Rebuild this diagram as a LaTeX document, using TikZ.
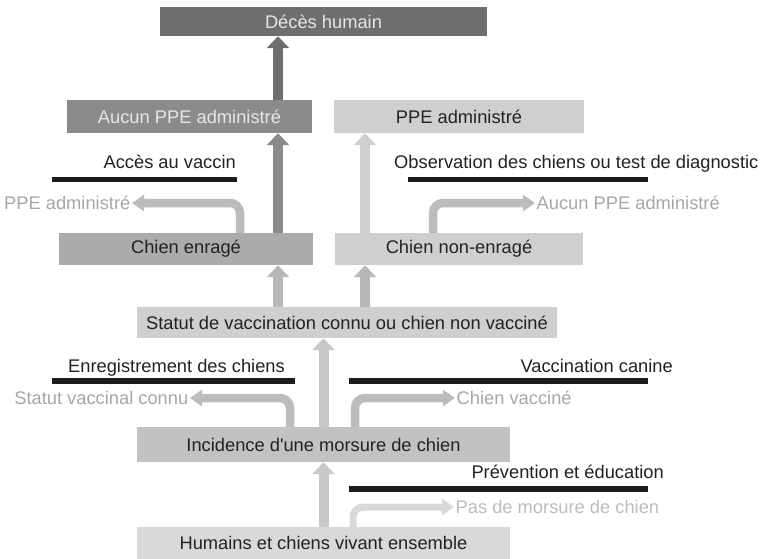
\documentclass[tikz,border=0pt]{standalone}
\usepackage{fontspec}
\setmainfont{Liberation Sans}[Ligatures=TeXOff]
\usepackage{xcolor}
\usepackage{tikz}
\usetikzlibrary{arrows.meta}
\definecolor{txtdark}{HTML}{222222}
\definecolor{txtlight}{HTML}{E6E6E6}
\definecolor{lbl}{HTML}{A6A6A6}
\definecolor{barblack}{HTML}{1C1C1C}
\definecolor{grayA}{HTML}{6D6E70}
\definecolor{grayB}{HTML}{8B8B8D}
\definecolor{grayC}{HTML}{ABABAB}
\definecolor{grayD}{HTML}{C2C2C2}
\definecolor{grayE}{HTML}{CFCFCF}
\definecolor{grayF}{HTML}{D9D9D9}
\tikzset{>={Triangle[width=22pt,length=12pt]},
  box/.style={rectangle,inner sep=0pt,text=txtdark,font=\fontsize{18.3}{21}\selectfont},
  bar/.style={rectangle,fill=barblack,inner sep=0pt,minimum height=5.5pt},
  bartext/.style={inner sep=0pt,text=txtdark,font=\fontsize{18.3}{21}\selectfont},
  sidetext/.style={inner sep=1.5pt,text=lbl,font=\fontsize{18.3}{21}\selectfont},
  main/.style={line width=10pt,->},
  side/.style={line width=8.5pt,rounded corners=10pt,-{Triangle[width=16pt,length=12pt]}}}
\begin{document}
\begin{tikzpicture}[x=1pt,y=-1pt]
    \useasboundingbox (0,0) rectangle (760,558);
    \node[box,fill=grayA,text=txtlight,minimum width=327pt,minimum height=29pt] (dec) at (323.5,21.5) {Décès humain};
    \node[box,fill=grayB,text=txtlight,minimum width=245pt,minimum height=33pt] (noppe) at (189.5,116.5) {Aucun PPE administré};
    \node[box,fill=grayE,minimum width=250pt,minimum height=33pt] (ppe) at (459,116.5) {PPE administré};
    \node[box,fill=grayC,minimum width=254pt,minimum height=32pt] (enr) at (186,249) {Chien enragé};
    \node[box,fill=grayE,minimum width=248pt,minimum height=32pt] (nonenr) at (459,249) {Chien non-enragé};
    \node[box,fill=grayE,minimum width=420pt,minimum height=31pt] (statut) at (347,322.5) {Statut de vaccination connu ou chien non vacciné};
    \node[box,fill=grayD,minimum width=373pt,minimum height=35pt] (inc) at (323.5,444.5) {Incidence d'une morsure de chien};
    \node[box,fill=grayF,minimum width=373pt,minimum height=32pt] (hum) at (323.5,543) {Humains et chiens vivant ensemble};

    \node[bar,minimum width=185pt] (accbar) at (144.5,179.5) {};
    \node[bar,minimum width=240pt] (obsbar) at (528,179.5) {};
    \node[bar,minimum width=243pt] (regbar) at (173.5,381) {};
    \node[bar,minimum width=299pt] (vacbar) at (498.5,381) {};
    \node[bar,minimum width=299pt] (prevbar) at (498.5,489) {};
    \node[bartext,anchor=base east] (acc) at (236,168) {Accès au vaccin};
    \node[bartext,anchor=base west] (obs) at (394,168) {Observation des chiens ou test de diagnostic};
    \node[bartext,anchor=base east] (reg) at (285,372) {Enregistrement des chiens};
    \node[bartext,anchor=base east] (vac) at (673,372) {Vaccination canine};
    \node[bartext,anchor=base east] (prev) at (664,478) {Prévention et éducation};

    \node[sidetext,anchor=east] (ppeL) at (132,203) {PPE administré};
    \node[sidetext,anchor=west] (noppeR) at (535,203) {Aucun PPE administré};
    \node[sidetext,anchor=east] (statL) at (190,398) {Statut vaccinal connu};
    \node[sidetext,anchor=west] (vacR) at (455,398) {Chien vacciné};
    \node[sidetext,text=lbl!75,anchor=west] (pasR) at (454,507) {Pas de morsure de chien};

    \draw[main,grayA] ([xshift=88.5pt]noppe.north) -- ([xshift=88.5pt]noppe.north |- dec.south);
    \draw[main,grayB] ([xshift=92pt]enr.north) -- ([xshift=92pt]enr.north |- noppe.south);
    \draw[main,grayE] ([xshift=-94pt]nonenr.north) -- ([xshift=-94pt]nonenr.north |- ppe.south);
    \draw[main,grayC!85] ([xshift=-69pt]statut.north) -- ([xshift=-69pt]statut.north |- enr.south);
    \draw[main,grayC!85] ([xshift=18pt]statut.north) -- ([xshift=18pt]statut.north |- nonenr.south);
    \draw[main,grayD!90] (inc.north) -- (inc.north |- statut.south);
    \draw[main,grayD!90] (hum.north) -- (inc.south);

    \draw[side,grayC!80] ([xshift=54pt]enr.north) |- (ppeL.east);
    \draw[side,grayC!80] ([xshift=-26pt]nonenr.north) |- (noppeR.west);
    \draw[side,grayC!80] ([xshift=-33.5pt]inc.north) |- (statL.east);
    \draw[side,grayC!80] ([xshift=31.5pt]inc.north) |- (vacR.west);
    \draw[side,grayF,line width=7pt] ([xshift=29.5pt]hum.north) |- (pasR.west);
\end{tikzpicture}
\end{document}
